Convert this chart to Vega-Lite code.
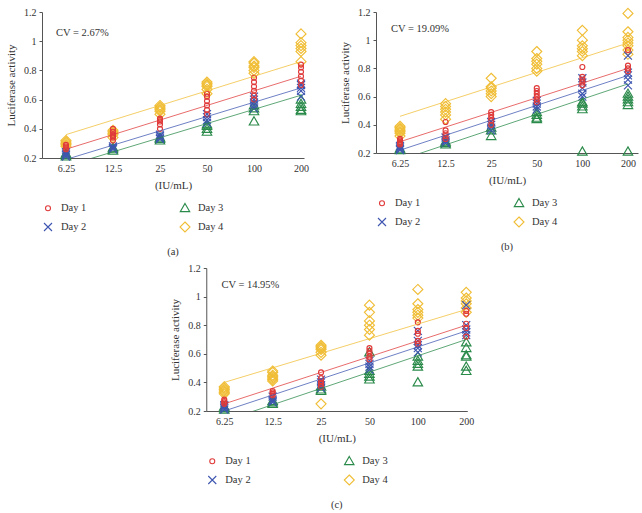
{
  "$schema": "https://vega.github.io/schema/vega-lite/v6.json",
  "padding": {"left": 5, "top": 6, "right": 5, "bottom": 4},
  "background": "white",
  "config": {
    "view": {"stroke": null},
    "font": "Liberation Serif",
    "axis": {
      "labelFont": "Liberation Serif", "labelFontSize": 10, "labelColor": "#333333",
      "titleFont": "Liberation Serif", "titleFontSize": 11, "titleFontWeight": "normal", "titleColor": "#333333",
      "domainColor": "#555555", "tickColor": "#555555", "domainWidth": 1, "labelOverlap": false
    },
    "legend": {
      "orient": "bottom", "direction": "horizontal", "columns": 2, "columnPadding": 90, "rowPadding": 5,
      "labelFont": "Liberation Serif", "labelFontSize": 10.5, "labelColor": "#333333", "labelOffset": 7,
      "symbolSize": 100, "symbolStrokeWidth": 1.1, "offset": 12, "padding": 0
    },
    "title": {"font": "Liberation Serif", "fontSize": 10.5, "fontWeight": "normal", "color": "#333333", "orient": "bottom", "anchor": "middle", "offset": 12}
  },
  "datasets": {
    "fits": [
      {"panel": "a", "day": "Day 1", "conc": 6.25, "value": 0.26}, {"panel": "a", "day": "Day 1", "conc": 200, "value": 0.76},
      {"panel": "a", "day": "Day 2", "conc": 6.25, "value": 0.19}, {"panel": "a", "day": "Day 2", "conc": 200, "value": 0.68},
      {"panel": "a", "day": "Day 3", "conc": 6.25, "value": 0.145}, {"panel": "a", "day": "Day 3", "conc": 200, "value": 0.63},
      {"panel": "a", "day": "Day 4", "conc": 6.25, "value": 0.36}, {"panel": "a", "day": "Day 4", "conc": 200, "value": 0.86},
      {"panel": "b", "day": "Day 1", "conc": 6.25, "value": 0.28}, {"panel": "b", "day": "Day 1", "conc": 200, "value": 0.80},
      {"panel": "b", "day": "Day 2", "conc": 6.25, "value": 0.22}, {"panel": "b", "day": "Day 2", "conc": 200, "value": 0.75},
      {"panel": "b", "day": "Day 3", "conc": 6.25, "value": 0.15}, {"panel": "b", "day": "Day 3", "conc": 200, "value": 0.69},
      {"panel": "b", "day": "Day 4", "conc": 6.25, "value": 0.46}, {"panel": "b", "day": "Day 4", "conc": 200, "value": 0.98},
      {"panel": "c", "day": "Day 1", "conc": 6.25, "value": 0.25}, {"panel": "c", "day": "Day 1", "conc": 200, "value": 0.80},
      {"panel": "c", "day": "Day 2", "conc": 6.25, "value": 0.20}, {"panel": "c", "day": "Day 2", "conc": 200, "value": 0.76},
      {"panel": "c", "day": "Day 3", "conc": 6.25, "value": 0.13}, {"panel": "c", "day": "Day 3", "conc": 200, "value": 0.70},
      {"panel": "c", "day": "Day 4", "conc": 6.25, "value": 0.40}, {"panel": "c", "day": "Day 4", "conc": 200, "value": 0.91}
    ],
    "cv": [
      {"panel": "a", "conc": 5.4, "value": 1.058, "label": "CV = 2.67%"},
      {"panel": "b", "conc": 5.45, "value": 1.08, "label": "CV = 19.09%"},
      {"panel": "c", "conc": 6.0, "value": 1.08, "label": "CV = 14.95%"}
    ],
    "points": [
      {"panel": "a", "conc": 6.25, "day": "Day 4", "value": 0.28}, {"panel": "a", "conc": 6.25, "day": "Day 4", "value": 0.29}, {"panel": "a", "conc": 6.25, "day": "Day 4", "value": 0.30}, {"panel": "a", "conc": 6.25, "day": "Day 4", "value": 0.31}, {"panel": "a", "conc": 6.25, "day": "Day 4", "value": 0.32},
      {"panel": "a", "conc": 6.25, "day": "Day 3", "value": 0.21}, {"panel": "a", "conc": 6.25, "day": "Day 3", "value": 0.22}, {"panel": "a", "conc": 6.25, "day": "Day 3", "value": 0.23},
      {"panel": "a", "conc": 6.25, "day": "Day 2", "value": 0.21}, {"panel": "a", "conc": 6.25, "day": "Day 2", "value": 0.22}, {"panel": "a", "conc": 6.25, "day": "Day 2", "value": 0.23}, {"panel": "a", "conc": 6.25, "day": "Day 2", "value": 0.24},
      {"panel": "a", "conc": 6.25, "day": "Day 1", "value": 0.26}, {"panel": "a", "conc": 6.25, "day": "Day 1", "value": 0.27}, {"panel": "a", "conc": 6.25, "day": "Day 1", "value": 0.28}, {"panel": "a", "conc": 6.25, "day": "Day 1", "value": 0.29},
      {"panel": "a", "conc": 12.5, "day": "Day 4", "value": 0.34}, {"panel": "a", "conc": 12.5, "day": "Day 4", "value": 0.36}, {"panel": "a", "conc": 12.5, "day": "Day 4", "value": 0.37}, {"panel": "a", "conc": 12.5, "day": "Day 4", "value": 0.38}, {"panel": "a", "conc": 12.5, "day": "Day 4", "value": 0.39},
      {"panel": "a", "conc": 12.5, "day": "Day 3", "value": 0.25}, {"panel": "a", "conc": 12.5, "day": "Day 3", "value": 0.26}, {"panel": "a", "conc": 12.5, "day": "Day 3", "value": 0.27},
      {"panel": "a", "conc": 12.5, "day": "Day 2", "value": 0.26}, {"panel": "a", "conc": 12.5, "day": "Day 2", "value": 0.27}, {"panel": "a", "conc": 12.5, "day": "Day 2", "value": 0.28},
      {"panel": "a", "conc": 12.5, "day": "Day 1", "value": 0.32}, {"panel": "a", "conc": 12.5, "day": "Day 1", "value": 0.34}, {"panel": "a", "conc": 12.5, "day": "Day 1", "value": 0.35}, {"panel": "a", "conc": 12.5, "day": "Day 1", "value": 0.36}, {"panel": "a", "conc": 12.5, "day": "Day 1", "value": 0.38}, {"panel": "a", "conc": 12.5, "day": "Day 1", "value": 0.40},
      {"panel": "a", "conc": 25, "day": "Day 4", "value": 0.50}, {"panel": "a", "conc": 25, "day": "Day 4", "value": 0.52}, {"panel": "a", "conc": 25, "day": "Day 4", "value": 0.53}, {"panel": "a", "conc": 25, "day": "Day 4", "value": 0.54}, {"panel": "a", "conc": 25, "day": "Day 4", "value": 0.55}, {"panel": "a", "conc": 25, "day": "Day 4", "value": 0.56},
      {"panel": "a", "conc": 25, "day": "Day 3", "value": 0.32}, {"panel": "a", "conc": 25, "day": "Day 3", "value": 0.33}, {"panel": "a", "conc": 25, "day": "Day 3", "value": 0.34},
      {"panel": "a", "conc": 25, "day": "Day 2", "value": 0.33}, {"panel": "a", "conc": 25, "day": "Day 2", "value": 0.34}, {"panel": "a", "conc": 25, "day": "Day 2", "value": 0.35}, {"panel": "a", "conc": 25, "day": "Day 2", "value": 0.36},
      {"panel": "a", "conc": 25, "day": "Day 1", "value": 0.40}, {"panel": "a", "conc": 25, "day": "Day 1", "value": 0.43}, {"panel": "a", "conc": 25, "day": "Day 1", "value": 0.45}, {"panel": "a", "conc": 25, "day": "Day 1", "value": 0.46}, {"panel": "a", "conc": 25, "day": "Day 1", "value": 0.47},
      {"panel": "a", "conc": 50, "day": "Day 4", "value": 0.64}, {"panel": "a", "conc": 50, "day": "Day 4", "value": 0.67}, {"panel": "a", "conc": 50, "day": "Day 4", "value": 0.69}, {"panel": "a", "conc": 50, "day": "Day 4", "value": 0.70}, {"panel": "a", "conc": 50, "day": "Day 4", "value": 0.71}, {"panel": "a", "conc": 50, "day": "Day 4", "value": 0.72},
      {"panel": "a", "conc": 50, "day": "Day 3", "value": 0.38}, {"panel": "a", "conc": 50, "day": "Day 3", "value": 0.40}, {"panel": "a", "conc": 50, "day": "Day 3", "value": 0.42}, {"panel": "a", "conc": 50, "day": "Day 3", "value": 0.43},
      {"panel": "a", "conc": 50, "day": "Day 2", "value": 0.44}, {"panel": "a", "conc": 50, "day": "Day 2", "value": 0.46}, {"panel": "a", "conc": 50, "day": "Day 2", "value": 0.48}, {"panel": "a", "conc": 50, "day": "Day 2", "value": 0.50},
      {"panel": "a", "conc": 50, "day": "Day 1", "value": 0.50}, {"panel": "a", "conc": 50, "day": "Day 1", "value": 0.53}, {"panel": "a", "conc": 50, "day": "Day 1", "value": 0.56}, {"panel": "a", "conc": 50, "day": "Day 1", "value": 0.59}, {"panel": "a", "conc": 50, "day": "Day 1", "value": 0.62}, {"panel": "a", "conc": 50, "day": "Day 1", "value": 0.64},
      {"panel": "a", "conc": 100, "day": "Day 4", "value": 0.78}, {"panel": "a", "conc": 100, "day": "Day 4", "value": 0.80}, {"panel": "a", "conc": 100, "day": "Day 4", "value": 0.82}, {"panel": "a", "conc": 100, "day": "Day 4", "value": 0.83}, {"panel": "a", "conc": 100, "day": "Day 4", "value": 0.85}, {"panel": "a", "conc": 100, "day": "Day 4", "value": 0.86},
      {"panel": "a", "conc": 100, "day": "Day 3", "value": 0.45}, {"panel": "a", "conc": 100, "day": "Day 3", "value": 0.52}, {"panel": "a", "conc": 100, "day": "Day 3", "value": 0.54}, {"panel": "a", "conc": 100, "day": "Day 3", "value": 0.56},
      {"panel": "a", "conc": 100, "day": "Day 2", "value": 0.54}, {"panel": "a", "conc": 100, "day": "Day 2", "value": 0.56}, {"panel": "a", "conc": 100, "day": "Day 2", "value": 0.58}, {"panel": "a", "conc": 100, "day": "Day 2", "value": 0.60}, {"panel": "a", "conc": 100, "day": "Day 2", "value": 0.62},
      {"panel": "a", "conc": 100, "day": "Day 1", "value": 0.60}, {"panel": "a", "conc": 100, "day": "Day 1", "value": 0.63}, {"panel": "a", "conc": 100, "day": "Day 1", "value": 0.66}, {"panel": "a", "conc": 100, "day": "Day 1", "value": 0.69}, {"panel": "a", "conc": 100, "day": "Day 1", "value": 0.72}, {"panel": "a", "conc": 100, "day": "Day 1", "value": 0.75},
      {"panel": "a", "conc": 200, "day": "Day 4", "value": 0.86}, {"panel": "a", "conc": 200, "day": "Day 4", "value": 0.93}, {"panel": "a", "conc": 200, "day": "Day 4", "value": 0.95}, {"panel": "a", "conc": 200, "day": "Day 4", "value": 0.97}, {"panel": "a", "conc": 200, "day": "Day 4", "value": 0.99}, {"panel": "a", "conc": 200, "day": "Day 4", "value": 1.05},
      {"panel": "a", "conc": 200, "day": "Day 3", "value": 0.52}, {"panel": "a", "conc": 200, "day": "Day 3", "value": 0.53}, {"panel": "a", "conc": 200, "day": "Day 3", "value": 0.55}, {"panel": "a", "conc": 200, "day": "Day 3", "value": 0.57}, {"panel": "a", "conc": 200, "day": "Day 3", "value": 0.60},
      {"panel": "a", "conc": 200, "day": "Day 2", "value": 0.62}, {"panel": "a", "conc": 200, "day": "Day 2", "value": 0.66}, {"panel": "a", "conc": 200, "day": "Day 2", "value": 0.68}, {"panel": "a", "conc": 200, "day": "Day 2", "value": 0.70}, {"panel": "a", "conc": 200, "day": "Day 2", "value": 0.71},
      {"panel": "a", "conc": 200, "day": "Day 1", "value": 0.70}, {"panel": "a", "conc": 200, "day": "Day 1", "value": 0.73}, {"panel": "a", "conc": 200, "day": "Day 1", "value": 0.76}, {"panel": "a", "conc": 200, "day": "Day 1", "value": 0.79}, {"panel": "a", "conc": 200, "day": "Day 1", "value": 0.82}, {"panel": "a", "conc": 200, "day": "Day 1", "value": 0.84},

      {"panel": "b", "conc": 6.25, "day": "Day 4", "value": 0.32}, {"panel": "b", "conc": 6.25, "day": "Day 4", "value": 0.34}, {"panel": "b", "conc": 6.25, "day": "Day 4", "value": 0.35}, {"panel": "b", "conc": 6.25, "day": "Day 4", "value": 0.36}, {"panel": "b", "conc": 6.25, "day": "Day 4", "value": 0.37}, {"panel": "b", "conc": 6.25, "day": "Day 4", "value": 0.38}, {"panel": "b", "conc": 6.25, "day": "Day 4", "value": 0.39},
      {"panel": "b", "conc": 6.25, "day": "Day 3", "value": 0.22}, {"panel": "b", "conc": 6.25, "day": "Day 3", "value": 0.23},
      {"panel": "b", "conc": 6.25, "day": "Day 2", "value": 0.22}, {"panel": "b", "conc": 6.25, "day": "Day 2", "value": 0.23}, {"panel": "b", "conc": 6.25, "day": "Day 2", "value": 0.24}, {"panel": "b", "conc": 6.25, "day": "Day 2", "value": 0.25},
      {"panel": "b", "conc": 6.25, "day": "Day 1", "value": 0.26}, {"panel": "b", "conc": 6.25, "day": "Day 1", "value": 0.27}, {"panel": "b", "conc": 6.25, "day": "Day 1", "value": 0.28}, {"panel": "b", "conc": 6.25, "day": "Day 1", "value": 0.29}, {"panel": "b", "conc": 6.25, "day": "Day 1", "value": 0.30},
      {"panel": "b", "conc": 12.5, "day": "Day 4", "value": 0.44}, {"panel": "b", "conc": 12.5, "day": "Day 4", "value": 0.47}, {"panel": "b", "conc": 12.5, "day": "Day 4", "value": 0.49}, {"panel": "b", "conc": 12.5, "day": "Day 4", "value": 0.51}, {"panel": "b", "conc": 12.5, "day": "Day 4", "value": 0.53}, {"panel": "b", "conc": 12.5, "day": "Day 4", "value": 0.55},
      {"panel": "b", "conc": 12.5, "day": "Day 3", "value": 0.26}, {"panel": "b", "conc": 12.5, "day": "Day 3", "value": 0.27}, {"panel": "b", "conc": 12.5, "day": "Day 3", "value": 0.28},
      {"panel": "b", "conc": 12.5, "day": "Day 2", "value": 0.27}, {"panel": "b", "conc": 12.5, "day": "Day 2", "value": 0.28}, {"panel": "b", "conc": 12.5, "day": "Day 2", "value": 0.29}, {"panel": "b", "conc": 12.5, "day": "Day 2", "value": 0.31},
      {"panel": "b", "conc": 12.5, "day": "Day 1", "value": 0.30}, {"panel": "b", "conc": 12.5, "day": "Day 1", "value": 0.32}, {"panel": "b", "conc": 12.5, "day": "Day 1", "value": 0.34}, {"panel": "b", "conc": 12.5, "day": "Day 1", "value": 0.36}, {"panel": "b", "conc": 12.5, "day": "Day 1", "value": 0.42},
      {"panel": "b", "conc": 25, "day": "Day 4", "value": 0.60}, {"panel": "b", "conc": 25, "day": "Day 4", "value": 0.62}, {"panel": "b", "conc": 25, "day": "Day 4", "value": 0.64}, {"panel": "b", "conc": 25, "day": "Day 4", "value": 0.66}, {"panel": "b", "conc": 25, "day": "Day 4", "value": 0.67}, {"panel": "b", "conc": 25, "day": "Day 4", "value": 0.73},
      {"panel": "b", "conc": 25, "day": "Day 3", "value": 0.32}, {"panel": "b", "conc": 25, "day": "Day 3", "value": 0.36}, {"panel": "b", "conc": 25, "day": "Day 3", "value": 0.38},
      {"panel": "b", "conc": 25, "day": "Day 2", "value": 0.36}, {"panel": "b", "conc": 25, "day": "Day 2", "value": 0.38}, {"panel": "b", "conc": 25, "day": "Day 2", "value": 0.40}, {"panel": "b", "conc": 25, "day": "Day 2", "value": 0.42},
      {"panel": "b", "conc": 25, "day": "Day 1", "value": 0.40}, {"panel": "b", "conc": 25, "day": "Day 1", "value": 0.43}, {"panel": "b", "conc": 25, "day": "Day 1", "value": 0.45}, {"panel": "b", "conc": 25, "day": "Day 1", "value": 0.47}, {"panel": "b", "conc": 25, "day": "Day 1", "value": 0.49},
      {"panel": "b", "conc": 50, "day": "Day 4", "value": 0.78}, {"panel": "b", "conc": 50, "day": "Day 4", "value": 0.80}, {"panel": "b", "conc": 50, "day": "Day 4", "value": 0.83}, {"panel": "b", "conc": 50, "day": "Day 4", "value": 0.85}, {"panel": "b", "conc": 50, "day": "Day 4", "value": 0.87}, {"panel": "b", "conc": 50, "day": "Day 4", "value": 0.92},
      {"panel": "b", "conc": 50, "day": "Day 3", "value": 0.44}, {"panel": "b", "conc": 50, "day": "Day 3", "value": 0.45}, {"panel": "b", "conc": 50, "day": "Day 3", "value": 0.47}, {"panel": "b", "conc": 50, "day": "Day 3", "value": 0.49},
      {"panel": "b", "conc": 50, "day": "Day 2", "value": 0.51}, {"panel": "b", "conc": 50, "day": "Day 2", "value": 0.53}, {"panel": "b", "conc": 50, "day": "Day 2", "value": 0.55}, {"panel": "b", "conc": 50, "day": "Day 2", "value": 0.57},
      {"panel": "b", "conc": 50, "day": "Day 1", "value": 0.56}, {"panel": "b", "conc": 50, "day": "Day 1", "value": 0.58}, {"panel": "b", "conc": 50, "day": "Day 1", "value": 0.60}, {"panel": "b", "conc": 50, "day": "Day 1", "value": 0.62}, {"panel": "b", "conc": 50, "day": "Day 1", "value": 0.64}, {"panel": "b", "conc": 50, "day": "Day 1", "value": 0.66},
      {"panel": "b", "conc": 100, "day": "Day 4", "value": 0.89}, {"panel": "b", "conc": 100, "day": "Day 4", "value": 0.92}, {"panel": "b", "conc": 100, "day": "Day 4", "value": 0.94}, {"panel": "b", "conc": 100, "day": "Day 4", "value": 0.96}, {"panel": "b", "conc": 100, "day": "Day 4", "value": 1.00}, {"panel": "b", "conc": 100, "day": "Day 4", "value": 1.07},
      {"panel": "b", "conc": 100, "day": "Day 3", "value": 0.21}, {"panel": "b", "conc": 100, "day": "Day 3", "value": 0.51}, {"panel": "b", "conc": 100, "day": "Day 3", "value": 0.53}, {"panel": "b", "conc": 100, "day": "Day 3", "value": 0.55}, {"panel": "b", "conc": 100, "day": "Day 3", "value": 0.56},
      {"panel": "b", "conc": 100, "day": "Day 2", "value": 0.60}, {"panel": "b", "conc": 100, "day": "Day 2", "value": 0.62}, {"panel": "b", "conc": 100, "day": "Day 2", "value": 0.66}, {"panel": "b", "conc": 100, "day": "Day 2", "value": 0.70}, {"panel": "b", "conc": 100, "day": "Day 2", "value": 0.73},
      {"panel": "b", "conc": 100, "day": "Day 1", "value": 0.68}, {"panel": "b", "conc": 100, "day": "Day 1", "value": 0.70}, {"panel": "b", "conc": 100, "day": "Day 1", "value": 0.72}, {"panel": "b", "conc": 100, "day": "Day 1", "value": 0.74}, {"panel": "b", "conc": 100, "day": "Day 1", "value": 0.81},
      {"panel": "b", "conc": 200, "day": "Day 4", "value": 0.90}, {"panel": "b", "conc": 200, "day": "Day 4", "value": 0.93}, {"panel": "b", "conc": 200, "day": "Day 4", "value": 0.96}, {"panel": "b", "conc": 200, "day": "Day 4", "value": 0.98}, {"panel": "b", "conc": 200, "day": "Day 4", "value": 1.00}, {"panel": "b", "conc": 200, "day": "Day 4", "value": 1.02}, {"panel": "b", "conc": 200, "day": "Day 4", "value": 1.06}, {"panel": "b", "conc": 200, "day": "Day 4", "value": 1.19},
      {"panel": "b", "conc": 200, "day": "Day 3", "value": 0.21}, {"panel": "b", "conc": 200, "day": "Day 3", "value": 0.54}, {"panel": "b", "conc": 200, "day": "Day 3", "value": 0.56}, {"panel": "b", "conc": 200, "day": "Day 3", "value": 0.58}, {"panel": "b", "conc": 200, "day": "Day 3", "value": 0.60}, {"panel": "b", "conc": 200, "day": "Day 3", "value": 0.62},
      {"panel": "b", "conc": 200, "day": "Day 2", "value": 0.68}, {"panel": "b", "conc": 200, "day": "Day 2", "value": 0.72}, {"panel": "b", "conc": 200, "day": "Day 2", "value": 0.75}, {"panel": "b", "conc": 200, "day": "Day 2", "value": 0.77}, {"panel": "b", "conc": 200, "day": "Day 2", "value": 0.89},
      {"panel": "b", "conc": 200, "day": "Day 1", "value": 0.78}, {"panel": "b", "conc": 200, "day": "Day 1", "value": 0.80}, {"panel": "b", "conc": 200, "day": "Day 1", "value": 0.82}, {"panel": "b", "conc": 200, "day": "Day 1", "value": 0.93},

      {"panel": "c", "conc": 6.25, "day": "Day 4", "value": 0.32}, {"panel": "c", "conc": 6.25, "day": "Day 4", "value": 0.33}, {"panel": "c", "conc": 6.25, "day": "Day 4", "value": 0.34}, {"panel": "c", "conc": 6.25, "day": "Day 4", "value": 0.35}, {"panel": "c", "conc": 6.25, "day": "Day 4", "value": 0.36}, {"panel": "c", "conc": 6.25, "day": "Day 4", "value": 0.37},
      {"panel": "c", "conc": 6.25, "day": "Day 3", "value": 0.21}, {"panel": "c", "conc": 6.25, "day": "Day 3", "value": 0.22}, {"panel": "c", "conc": 6.25, "day": "Day 3", "value": 0.23},
      {"panel": "c", "conc": 6.25, "day": "Day 2", "value": 0.21}, {"panel": "c", "conc": 6.25, "day": "Day 2", "value": 0.22}, {"panel": "c", "conc": 6.25, "day": "Day 2", "value": 0.23}, {"panel": "c", "conc": 6.25, "day": "Day 2", "value": 0.24},
      {"panel": "c", "conc": 6.25, "day": "Day 1", "value": 0.25}, {"panel": "c", "conc": 6.25, "day": "Day 1", "value": 0.26}, {"panel": "c", "conc": 6.25, "day": "Day 1", "value": 0.27}, {"panel": "c", "conc": 6.25, "day": "Day 1", "value": 0.28},
      {"panel": "c", "conc": 12.5, "day": "Day 4", "value": 0.41}, {"panel": "c", "conc": 12.5, "day": "Day 4", "value": 0.42}, {"panel": "c", "conc": 12.5, "day": "Day 4", "value": 0.43}, {"panel": "c", "conc": 12.5, "day": "Day 4", "value": 0.44}, {"panel": "c", "conc": 12.5, "day": "Day 4", "value": 0.45}, {"panel": "c", "conc": 12.5, "day": "Day 4", "value": 0.47}, {"panel": "c", "conc": 12.5, "day": "Day 4", "value": 0.48},
      {"panel": "c", "conc": 12.5, "day": "Day 3", "value": 0.25}, {"panel": "c", "conc": 12.5, "day": "Day 3", "value": 0.26}, {"panel": "c", "conc": 12.5, "day": "Day 3", "value": 0.27},
      {"panel": "c", "conc": 12.5, "day": "Day 2", "value": 0.26}, {"panel": "c", "conc": 12.5, "day": "Day 2", "value": 0.27}, {"panel": "c", "conc": 12.5, "day": "Day 2", "value": 0.28}, {"panel": "c", "conc": 12.5, "day": "Day 2", "value": 0.30},
      {"panel": "c", "conc": 12.5, "day": "Day 1", "value": 0.31}, {"panel": "c", "conc": 12.5, "day": "Day 1", "value": 0.32}, {"panel": "c", "conc": 12.5, "day": "Day 1", "value": 0.33}, {"panel": "c", "conc": 12.5, "day": "Day 1", "value": 0.34},
      {"panel": "c", "conc": 25, "day": "Day 4", "value": 0.25}, {"panel": "c", "conc": 25, "day": "Day 4", "value": 0.59}, {"panel": "c", "conc": 25, "day": "Day 4", "value": 0.61}, {"panel": "c", "conc": 25, "day": "Day 4", "value": 0.63}, {"panel": "c", "conc": 25, "day": "Day 4", "value": 0.64}, {"panel": "c", "conc": 25, "day": "Day 4", "value": 0.65}, {"panel": "c", "conc": 25, "day": "Day 4", "value": 0.66},
      {"panel": "c", "conc": 25, "day": "Day 3", "value": 0.34}, {"panel": "c", "conc": 25, "day": "Day 3", "value": 0.35}, {"panel": "c", "conc": 25, "day": "Day 3", "value": 0.37},
      {"panel": "c", "conc": 25, "day": "Day 2", "value": 0.36}, {"panel": "c", "conc": 25, "day": "Day 2", "value": 0.38}, {"panel": "c", "conc": 25, "day": "Day 2", "value": 0.40}, {"panel": "c", "conc": 25, "day": "Day 2", "value": 0.42},
      {"panel": "c", "conc": 25, "day": "Day 1", "value": 0.37}, {"panel": "c", "conc": 25, "day": "Day 1", "value": 0.39}, {"panel": "c", "conc": 25, "day": "Day 1", "value": 0.41}, {"panel": "c", "conc": 25, "day": "Day 1", "value": 0.43}, {"panel": "c", "conc": 25, "day": "Day 1", "value": 0.47},
      {"panel": "c", "conc": 50, "day": "Day 4", "value": 0.73}, {"panel": "c", "conc": 50, "day": "Day 4", "value": 0.77}, {"panel": "c", "conc": 50, "day": "Day 4", "value": 0.80}, {"panel": "c", "conc": 50, "day": "Day 4", "value": 0.83}, {"panel": "c", "conc": 50, "day": "Day 4", "value": 0.89}, {"panel": "c", "conc": 50, "day": "Day 4", "value": 0.94},
      {"panel": "c", "conc": 50, "day": "Day 3", "value": 0.42}, {"panel": "c", "conc": 50, "day": "Day 3", "value": 0.44}, {"panel": "c", "conc": 50, "day": "Day 3", "value": 0.46}, {"panel": "c", "conc": 50, "day": "Day 3", "value": 0.48}, {"panel": "c", "conc": 50, "day": "Day 3", "value": 0.61},
      {"panel": "c", "conc": 50, "day": "Day 2", "value": 0.49}, {"panel": "c", "conc": 50, "day": "Day 2", "value": 0.51}, {"panel": "c", "conc": 50, "day": "Day 2", "value": 0.53}, {"panel": "c", "conc": 50, "day": "Day 2", "value": 0.55},
      {"panel": "c", "conc": 50, "day": "Day 1", "value": 0.56}, {"panel": "c", "conc": 50, "day": "Day 1", "value": 0.58}, {"panel": "c", "conc": 50, "day": "Day 1", "value": 0.60}, {"panel": "c", "conc": 50, "day": "Day 1", "value": 0.62}, {"panel": "c", "conc": 50, "day": "Day 1", "value": 0.64},
      {"panel": "c", "conc": 100, "day": "Day 4", "value": 0.85}, {"panel": "c", "conc": 100, "day": "Day 4", "value": 0.87}, {"panel": "c", "conc": 100, "day": "Day 4", "value": 0.89}, {"panel": "c", "conc": 100, "day": "Day 4", "value": 0.91}, {"panel": "c", "conc": 100, "day": "Day 4", "value": 0.95}, {"panel": "c", "conc": 100, "day": "Day 4", "value": 1.05},
      {"panel": "c", "conc": 100, "day": "Day 3", "value": 0.40}, {"panel": "c", "conc": 100, "day": "Day 3", "value": 0.51}, {"panel": "c", "conc": 100, "day": "Day 3", "value": 0.53}, {"panel": "c", "conc": 100, "day": "Day 3", "value": 0.55}, {"panel": "c", "conc": 100, "day": "Day 3", "value": 0.58},
      {"panel": "c", "conc": 100, "day": "Day 2", "value": 0.61}, {"panel": "c", "conc": 100, "day": "Day 2", "value": 0.64}, {"panel": "c", "conc": 100, "day": "Day 2", "value": 0.66}, {"panel": "c", "conc": 100, "day": "Day 2", "value": 0.69}, {"panel": "c", "conc": 100, "day": "Day 2", "value": 0.76},
      {"panel": "c", "conc": 100, "day": "Day 1", "value": 0.67}, {"panel": "c", "conc": 100, "day": "Day 1", "value": 0.69}, {"panel": "c", "conc": 100, "day": "Day 1", "value": 0.74}, {"panel": "c", "conc": 100, "day": "Day 1", "value": 0.76}, {"panel": "c", "conc": 100, "day": "Day 1", "value": 0.82},
      {"panel": "c", "conc": 200, "day": "Day 4", "value": 0.89}, {"panel": "c", "conc": 200, "day": "Day 4", "value": 0.92}, {"panel": "c", "conc": 200, "day": "Day 4", "value": 0.95}, {"panel": "c", "conc": 200, "day": "Day 4", "value": 0.97}, {"panel": "c", "conc": 200, "day": "Day 4", "value": 0.99}, {"panel": "c", "conc": 200, "day": "Day 4", "value": 1.03},
      {"panel": "c", "conc": 200, "day": "Day 3", "value": 0.48}, {"panel": "c", "conc": 200, "day": "Day 3", "value": 0.51}, {"panel": "c", "conc": 200, "day": "Day 3", "value": 0.58}, {"panel": "c", "conc": 200, "day": "Day 3", "value": 0.59}, {"panel": "c", "conc": 200, "day": "Day 3", "value": 0.64}, {"panel": "c", "conc": 200, "day": "Day 3", "value": 0.68},
      {"panel": "c", "conc": 200, "day": "Day 2", "value": 0.73}, {"panel": "c", "conc": 200, "day": "Day 2", "value": 0.75}, {"panel": "c", "conc": 200, "day": "Day 2", "value": 0.77}, {"panel": "c", "conc": 200, "day": "Day 2", "value": 0.80}, {"panel": "c", "conc": 200, "day": "Day 2", "value": 0.94},
      {"panel": "c", "conc": 200, "day": "Day 1", "value": 0.72}, {"panel": "c", "conc": 200, "day": "Day 1", "value": 0.78}, {"panel": "c", "conc": 200, "day": "Day 1", "value": 0.81}, {"panel": "c", "conc": 200, "day": "Day 1", "value": 0.88}, {"panel": "c", "conc": 200, "day": "Day 1", "value": 0.90}
    ]
  },
  "spacing": 5,
  "center": true,
  "resolve": {"scale": {"color": "independent", "shape": "independent"}, "legend": {"color": "independent", "shape": "independent"}},
  "vconcat": [
    {
      "spacing": 30,
      "resolve": {"scale": {"color": "independent", "shape": "independent"}, "legend": {"color": "independent", "shape": "independent"}},
      "hconcat": [
        {
          "width": 262, "height": 146,
          "title": {"text": "(a)"},
          "layer": [
            {
              "data": {"name": "points"},
              "transform": [{"filter": "datum.panel === 'a'"}],
              "mark": {"type": "point", "filled": false, "strokeWidth": 1.15, "opacity": 1, "size": 100},
              "encoding": {
                "x": {"field": "conc", "type": "quantitative", "scale": {"type": "log", "domain": [4.39, 209], "nice": false}, "axis": {"values": [6.25, 12.5, 25, 50, 100, 200], "tickCount": 10, "format": "~g", "ticks": false, "grid": false, "labelPadding": 5, "title": "(IU/mL)", "titlePadding": 6, "labelFlush": false, "labelOverlap": false}},
                "y": {"field": "value", "type": "quantitative", "scale": {"domain": [0.2, 1.2], "nice": false, "zero": false}, "axis": {"values": [0.2, 0.4, 0.6, 0.8, 1, 1.2], "tickCount": 10, "format": "~g", "tickSize": 3, "labelPadding": 3, "title": "Luciferase activity", "titlePadding": 7, "grid": false, "labelOverlap": false, "labelFlush": false}},
                "color": {"field": "day", "type": "nominal", "scale": {"domain": ["Day 1", "Day 3", "Day 2", "Day 4"], "range": ["#e03a3a", "#2a8a4a", "#3d55b0", "#f0bd35"]}, "legend": {"title": null}},
                "shape": {"field": "day", "type": "nominal", "scale": {"domain": ["Day 1", "Day 3", "Day 2", "Day 4"], "range": ["M0.5,0A0.5,0.5 0 1,1 -0.5,0A0.5,0.5 0 1,1 0.5,0Z", "M0,-0.95L0.95,0.7L-0.95,0.7Z", "M-0.8,-0.8L0.8,0.8M-0.8,0.8L0.8,-0.8", "M0,-1L1,0L0,1L-1,0Z"]}, "legend": {"title": null}}
              }
            },
            {
              "data": {"name": "fits"},
              "transform": [{"filter": "datum.panel === 'a'"}],
              "mark": {"type": "line", "clip": true, "strokeWidth": 1, "opacity": 0.75},
              "encoding": {
                "x": {"field": "conc", "type": "quantitative"},
                "y": {"field": "value", "type": "quantitative"},
                "color": {"field": "day", "type": "nominal"},
                "detail": {"field": "day"}
              }
            },
            {
              "mark": {"type": "rule", "color": "#555555", "strokeWidth": 1},
              "encoding": {"y": {"datum": 1.2}}
            },
            {
              "data": {"name": "cv"},
              "transform": [{"filter": "datum.panel === 'a'"}],
              "mark": {"type": "text", "align": "left", "baseline": "middle", "font": "Liberation Serif", "fontSize": 10.5, "color": "#333333"},
              "encoding": {
                "x": {"field": "conc", "type": "quantitative"},
                "y": {"field": "value", "type": "quantitative"},
                "text": {"field": "label"}
              }
            }
          ]
        },
        {
          "width": 262, "height": 141,
          "title": {"text": "(b)"},
          "layer": [
            {
              "data": {"name": "points"},
              "transform": [{"filter": "datum.panel === 'b'"}],
              "mark": {"type": "point", "filled": false, "strokeWidth": 1.15, "opacity": 1, "size": 100},
              "encoding": {
                "x": {"field": "conc", "type": "quantitative", "scale": {"type": "log", "domain": [4.34, 233], "nice": false}, "axis": {"values": [6.25, 12.5, 25, 50, 100, 200], "tickCount": 10, "format": "~g", "ticks": false, "grid": false, "labelPadding": 5, "title": "(IU/mL)", "titlePadding": 6, "labelFlush": false, "labelOverlap": false}},
                "y": {"field": "value", "type": "quantitative", "scale": {"domain": [0.2, 1.2], "nice": false, "zero": false}, "axis": {"values": [0.2, 0.4, 0.6, 0.8, 1, 1.2], "tickCount": 10, "format": "~g", "tickSize": 3, "labelPadding": 3, "title": "Luciferase activity", "titlePadding": 7, "grid": false, "labelOverlap": false, "labelFlush": false}},
                "color": {"field": "day", "type": "nominal", "scale": {"domain": ["Day 1", "Day 3", "Day 2", "Day 4"], "range": ["#e03a3a", "#2a8a4a", "#3d55b0", "#f0bd35"]}, "legend": {"title": null}},
                "shape": {"field": "day", "type": "nominal", "scale": {"domain": ["Day 1", "Day 3", "Day 2", "Day 4"], "range": ["M0.5,0A0.5,0.5 0 1,1 -0.5,0A0.5,0.5 0 1,1 0.5,0Z", "M0,-0.95L0.95,0.7L-0.95,0.7Z", "M-0.8,-0.8L0.8,0.8M-0.8,0.8L0.8,-0.8", "M0,-1L1,0L0,1L-1,0Z"]}, "legend": {"title": null}}
              }
            },
            {
              "data": {"name": "fits"},
              "transform": [{"filter": "datum.panel === 'b'"}],
              "mark": {"type": "line", "clip": true, "strokeWidth": 1, "opacity": 0.75},
              "encoding": {
                "x": {"field": "conc", "type": "quantitative"},
                "y": {"field": "value", "type": "quantitative"},
                "color": {"field": "day", "type": "nominal"},
                "detail": {"field": "day"}
              }
            },
            {
              "mark": {"type": "rule", "color": "#555555", "strokeWidth": 1},
              "encoding": {"y": {"datum": 1.2}}
            },
            {
              "data": {"name": "cv"},
              "transform": [{"filter": "datum.panel === 'b'"}],
              "mark": {"type": "text", "align": "left", "baseline": "middle", "font": "Liberation Serif", "fontSize": 10.5, "color": "#333333"},
              "encoding": {
                "x": {"field": "conc", "type": "quantitative"},
                "y": {"field": "value", "type": "quantitative"},
                "text": {"field": "label"}
              }
            }
          ]
        }
      ]
    },
    {
      "width": 261, "height": 143,
      "title": {"text": "(c)"},
      "layer": [
        {
          "data": {"name": "points"},
          "transform": [{"filter": "datum.panel === 'c'"}],
          "mark": {"type": "point", "filled": false, "strokeWidth": 1.15, "opacity": 1, "size": 100},
          "encoding": {
            "x": {"field": "conc", "type": "quantitative", "scale": {"type": "log", "domain": [4.83, 203], "nice": false}, "axis": {"values": [6.25, 12.5, 25, 50, 100, 200], "tickCount": 10, "format": "~g", "ticks": false, "grid": false, "labelPadding": 5, "title": "(IU/mL)", "titlePadding": 6, "labelFlush": false, "labelOverlap": false}},
            "y": {"field": "value", "type": "quantitative", "scale": {"domain": [0.2, 1.2], "nice": false, "zero": false}, "axis": {"values": [0.2, 0.4, 0.6, 0.8, 1, 1.2], "tickCount": 10, "format": "~g", "tickSize": 3, "labelPadding": 3, "title": "Luciferase activity", "titlePadding": 7, "grid": false, "labelOverlap": false, "labelFlush": false}},
            "color": {"field": "day", "type": "nominal", "scale": {"domain": ["Day 1", "Day 3", "Day 2", "Day 4"], "range": ["#e03a3a", "#2a8a4a", "#3d55b0", "#f0bd35"]}, "legend": {"title": null}},
            "shape": {"field": "day", "type": "nominal", "scale": {"domain": ["Day 1", "Day 3", "Day 2", "Day 4"], "range": ["M0.5,0A0.5,0.5 0 1,1 -0.5,0A0.5,0.5 0 1,1 0.5,0Z", "M0,-0.95L0.95,0.7L-0.95,0.7Z", "M-0.8,-0.8L0.8,0.8M-0.8,0.8L0.8,-0.8", "M0,-1L1,0L0,1L-1,0Z"]}, "legend": {"title": null}}
          }
        },
        {
          "data": {"name": "fits"},
          "transform": [{"filter": "datum.panel === 'c'"}],
          "mark": {"type": "line", "clip": true, "strokeWidth": 1, "opacity": 0.75},
          "encoding": {
            "x": {"field": "conc", "type": "quantitative"},
            "y": {"field": "value", "type": "quantitative"},
            "color": {"field": "day", "type": "nominal"},
            "detail": {"field": "day"}
          }
        },
        {
          "mark": {"type": "rule", "color": "#555555", "strokeWidth": 1},
          "encoding": {"y": {"datum": 1.2}}
        },
        {
          "data": {"name": "cv"},
          "transform": [{"filter": "datum.panel === 'c'"}],
          "mark": {"type": "text", "align": "left", "baseline": "middle", "font": "Liberation Serif", "fontSize": 10.5, "color": "#333333"},
          "encoding": {
            "x": {"field": "conc", "type": "quantitative"},
            "y": {"field": "value", "type": "quantitative"},
            "text": {"field": "label"}
          }
        }
      ]
    }
  ]
}
